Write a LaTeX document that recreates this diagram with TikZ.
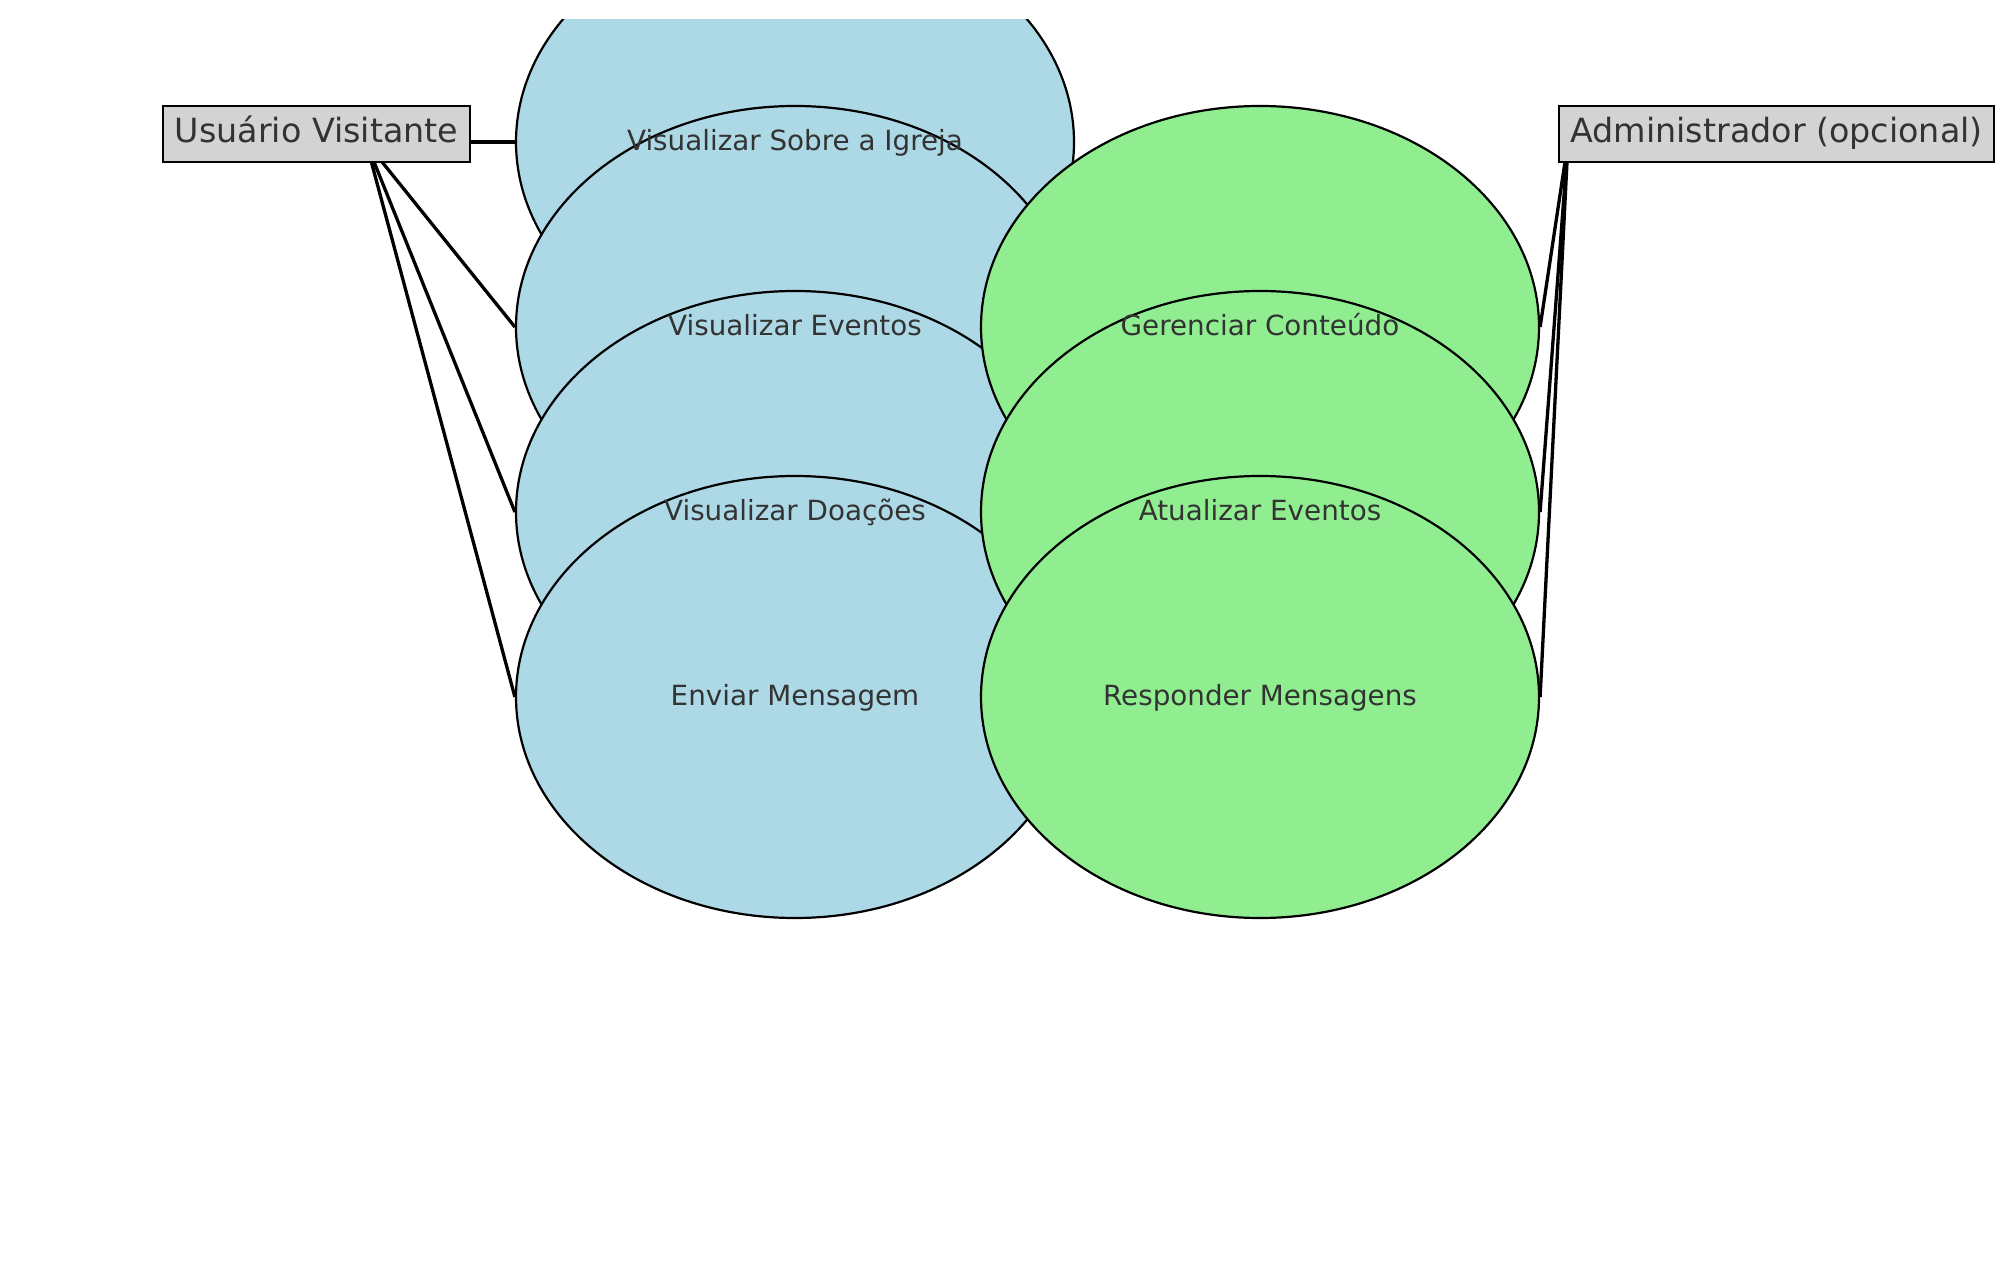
\documentclass[tikz,border=0pt]{standalone}
\usepackage{fontspec}
\setmainfont{DejaVu Sans}
\usetikzlibrary{shapes.geometric}
\definecolor{ucblue}{HTML}{ADD8E6}
\definecolor{ucgreen}{HTML}{90EE90}
\definecolor{actorgray}{HTML}{D3D3D3}
\definecolor{txtgray}{HTML}{333333}
\tikzset{
  usecase/.style={ellipse, draw=black, line width=1.1pt, minimum width=279pt, minimum height=221pt, inner sep=0pt},
  bluecase/.style={usecase, fill=ucblue},
  greencase/.style={usecase, fill=ucgreen},
  uclabel/.style={text=txtgray, inner sep=0pt, font=\fontsize{13.89pt}{16pt}\selectfont, text height=10.15pt, text depth=1.85pt},
  actorbox/.style={draw=black, fill=actorgray, line width=1.35pt, inner sep=0pt, minimum height=28pt, text=txtgray, font=\fontsize{16.67pt}{20pt}\selectfont, text height=12.15pt, text depth=3.45pt},
  link/.style={draw=black, line width=1.65pt}
}
\begin{document}
\begin{tikzpicture}[x=0.5pt,y=-0.5pt]
\useasboundingbox (0,0) rectangle (2002,1272);
\begin{scope}
\clip (0,20) rectangle (2002,1272);
% use cases (visitor)
\node[bluecase] (e1) at (795,142) {};
\node[bluecase] (e2) at (795,327) {};
\node[bluecase] (e3) at (795,512) {};
\node[bluecase] (e4) at (795,697) {};
% use cases (admin)
\node[greencase] (g1) at (1260,327) {};
\node[greencase] (g2) at (1260,512) {};
\node[greencase] (g3) at (1260,697) {};
% labels
\node[uclabel] (t1) at (e1.center) {Visualizar Sobre a Igreja};
\node[uclabel] (t2) at (e2.center) {Visualizar Eventos};
\node[uclabel] (t3) at (e3.center) {Visualizar Doações};
\node[uclabel] (t4) at (e4.center) {Enviar Mensagem};
\node[uclabel] (s1) at (g1.center) {Gerenciar Conteúdo};
\node[uclabel] (s2) at (g2.center) {Atualizar Eventos};
\node[uclabel] (s3) at (g3.center) {Responder Mensagens};
% connectors
\coordinate (uo) at (366,142);
\coordinate (ao) at (1568,142);
\draw[link] (uo) -- (e1.west);
\draw[link] (uo) -- (e2.west);
\draw[link] (uo) -- (e3.west);
\draw[link] (uo) -- (e4.west);
\draw[link] (ao) -- (g1.east);
\draw[link] (ao) -- (g2.east);
\draw[link] (ao) -- (g3.east);
% actors
\node[actorbox, minimum width=153.5pt] (ua) at (316.5,134) {Usuário Visitante};
\node[actorbox, minimum width=217.5pt] (ad) at (1776.5,134) {Administrador (opcional)};
\end{scope}
\end{tikzpicture}
\end{document}
